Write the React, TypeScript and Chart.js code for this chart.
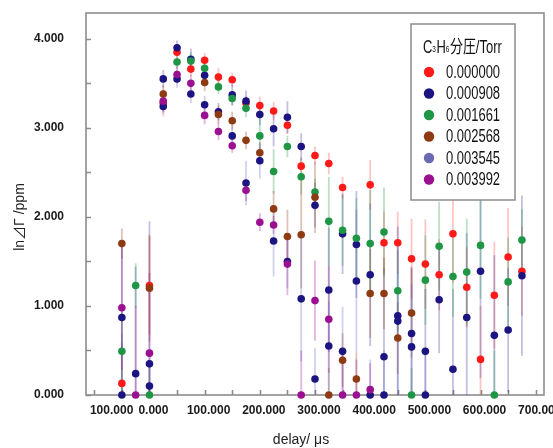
import React, { useEffect, useRef } from 'react';
import { Chart, registerables } from 'chart.js';

Chart.register(...registerables);

// delay (µs) of each measurement column
const delays = [-50, -25, 0, 25, 50, 75, 100, 125, 150, 175, 200, 225, 250, 275, 300, 325, 350, 375, 400, 425, 450, 475, 500, 525, 550, 575, 600, 625, 650, 675];

const seriesLabels = ['0.000000', '0.000908', '0.001661', '0.002568', '0.003545', '0.003992'];

// ln ΔΓ values per series (null = no point)
const p000000 = [0.13, null, 1.23, 3.28, 3.85, 3.66, 3.76, 3.57, 3.54, 3.28, 3.25, 3.19, 3.03, 2.57, 2.69, 2.60, 2.33, null, 2.36, 1.71, 1.71, 1.53, 1.47, 1.35, 1.81, 1.21, 0.40, 1.12, 1.55, 1.39];
const p000908 = [0.87, 0.24, 0.35, 3.55, 3.90, 3.77, 3.59, 3.18, 3.37, 3.30, 3.15, 2.99, 3.12, 2.79, 2.13, 1.18, 1.81, 1.69, 1.35, 0.43, 0.89, 0.69, 0.49, 1.07, 0.29, 0.87, 1.39, 0.67, 0.73, 1.34];
const p001661 = [0.49, 1.23, 0.0, null, 3.74, 3.75, 3.67, 3.46, 3.33, 3.22, 2.91, 2.51, 2.79, 2.45, 2.28, 1.95, 1.85, 1.76, 1.70, 1.83, 1.17, 0.0, 1.29, 1.67, 1.33, 1.38, 1.68, 0.0, 1.27, 1.74];
const p002568 = [1.70, null, 1.20, 3.38, null, null, 3.51, 3.15, 3.08, 2.86, 2.72, 2.09, 1.78, 1.80, 2.22, 0.0, 0.39, 0.18, 1.14, 1.14, 0.64, 0.92, null, null, null, null, null, null, null, null];
const p003545 = [0.0, null, 0.10, 3.24, 3.55, 3.38, 3.26, null, 2.91, 2.38, 2.63, 1.73, 1.50, 1.08, 0.18, 0.55, 0.49, 1.28, 0.0, 0.0, 0.83, 0.54, 0.0, null, null, null, null, null, null, null];
const p003992 = [0.98, 0.0, 0.47, 3.30, 3.60, 3.50, 3.14, 2.96, 2.80, 2.30, 1.94, 1.91, 1.47, 0.0, 1.06, 0.85, 0.0, 0.0, 0.06, null, null, null, null, null, null, null, null, null, null, null];

// error bar half widths
const e000000 = [0.45, null, 0.55, 0.15, 0.08, 0.08, 0.08, 0.10, 0.08, 0.08, 0.10, 0.10, 0.10, 0.10, 0.10, 0.12, 0.12, null, 0.28, 0.35, 0.35, 0.45, 0.50, 0.40, 0.55, 0.45, 0.60, 0.60, 0.55, 0.50];
const e000908 = [0.85, 1.20, 1.60, 0.10, 0.08, 0.12, 0.10, 0.10, 0.12, 0.12, 0.12, 0.20, 0.18, 0.15, 0.25, 0.70, 0.45, 0.60, 0.80, 1.00, 1.00, 0.75, 0.70, 0.60, 0.90, 0.95, 1.20, 0.90, 0.70, 0.90];
const e001661 = [0.50, 0.25, 0.30, null, 0.08, 0.10, 0.08, 0.08, 0.08, 0.10, 0.20, 0.25, 0.12, 0.20, 0.15, 0.50, 0.40, 0.45, 0.60, 0.50, 0.45, 0.30, 0.50, 0.50, 0.45, 0.60, 0.60, 0.50, 0.50, 0.35];
const e002568 = [0.17, null, 0.60, 0.10, null, null, 0.10, 0.10, 0.10, 0.10, 0.12, 0.20, 0.30, 0.60, 0.40, 0.30, 0.30, 0.30, 0.50, 0.40, 0.40, 0.50, null, null, null, null, null, null, null, null];
const e003545 = [0.70, null, 0.30, 0.08, 0.10, 0.10, 0.10, null, 0.12, 0.25, 0.20, 0.40, 0.30, 0.70, 0.35, 0.50, 0.50, 0.80, 0.40, 0.50, 0.90, 0.70, 0.50, null, null, null, null, null, null, null];
const e003992 = [0.70, 1.00, 0.90, 0.12, 0.10, 0.10, 0.10, 0.10, 0.08, 0.12, 0.10, 0.10, 0.35, 0.50, 0.45, 0.60, 0.50, 0.40, 0.30, null, null, null, null, null, null, null, null, null, null, null];

const seriesValues = [p000000, p000908, p001661, p002568, p003545, p003992];
const seriesErrors = [e000000, e000908, e001661, e002568, e003545, e003992];

const markerColors = ['#FF1A1A', '#1C1480', '#1E9646', '#8E3A12', '#1C1480', '#9A1090'];
const legendColors = ['#FF1A1A', '#1C1480', '#1E9646', '#8E3A12', '#6A6AB4', '#9A1090'];
const errorColors = ['rgba(255,60,60,0.3)', 'rgba(40,30,150,0.28)', 'rgba(30,150,70,0.3)', 'rgba(142,58,18,0.3)', 'rgba(90,90,190,0.28)', 'rgba(154,16,144,0.3)'];

const yTickValues = [0, 1, 2, 3, 4];
const xTickStep = 100;
const xMinorStep = 50;
const yMinorStep = 0.5;
const xTitle = 'delay/ μs';
const yTitle = 'ln⊿Γ /ppm';
const legendTitleParts = [
  { t: 'C', sub: false },
  { t: '3', sub: true },
  { t: 'H', sub: false },
  { t: '6', sub: true },
  { t: '分圧/Torr', sub: false },
];

const FONT = '"Liberation Sans", Arial, "Noto Sans CJK JP", sans-serif';
const CANVAS_W = 584;

const decorPlugin = {
  id: 'decor',
  beforeDatasetsDraw(chart: any) {
    const { ctx, chartArea: a, scales } = chart;
    const xs = scales.x;
    const ys = scales.y;
    ctx.save();
    // frame / axes
    ctx.strokeStyle = '#8c8c8c';
    ctx.lineWidth = 1.6;
    ctx.strokeRect(a.left, a.top, a.right - a.left, a.bottom - a.top);
    // inner tick marks
    ctx.beginPath();
    for (let v = 0; v <= ys.max + 1e-9; v += yMinorStep) {
      const py = Math.round(ys.getPixelForValue(v)) + 0.5;
      ctx.moveTo(a.left, py);
      ctx.lineTo(a.left + 5, py);
    }
    const xStart = Math.ceil(xs.min / xMinorStep) * xMinorStep;
    for (let v = xStart; v <= xs.max + 1e-9; v += xMinorStep) {
      const px = Math.round(xs.getPixelForValue(v)) + 0.5;
      ctx.moveTo(px, a.bottom);
      ctx.lineTo(px, a.bottom - 5);
    }
    ctx.stroke();

    // error bars
    ctx.beginPath();
    ctx.rect(a.left, a.top, a.right - a.left, a.bottom - a.top);
    ctx.clip();
    ctx.lineWidth = 1.8;
    seriesValues.forEach((vals, si) => {
      ctx.strokeStyle = errorColors[si];
      ctx.beginPath();
      vals.forEach((v, i) => {
        const e = seriesErrors[si][i];
        if (v == null || e == null) return;
        const px = xs.getPixelForValue(delays[i]);
        ctx.moveTo(px, ys.getPixelForValue(v + e));
        ctx.lineTo(px, ys.getPixelForValue(Math.max(0, v - e)));
      });
      ctx.stroke();
    });
    ctx.restore();

    // axis titles
    ctx.save();
    ctx.fillStyle = '#222';
    ctx.font = `14px ${FONT}`;
    ctx.textAlign = 'center';
    ctx.textBaseline = 'middle';
    ctx.fillText(xTitle, 301, 440);
    ctx.translate(20, 217);
    ctx.rotate(-Math.PI / 2);
    ctx.fillText(yTitle, 0, 0);
    ctx.restore();
  },
  afterDatasetsDraw(chart: any) {
    const { ctx } = chart;
    ctx.save();
    const bx = 411, by = 24, bw = 104, bh = 176;
    ctx.fillStyle = '#ffffff';
    ctx.fillRect(bx, by, bw, bh);
    ctx.strokeStyle = '#8c8c8c';
    ctx.lineWidth = 1.5;
    ctx.strokeRect(bx, by, bw, bh);
    const sx = 0.72;
    // title
    ctx.fillStyle = '#111';
    ctx.textBaseline = 'alphabetic';
    ctx.textAlign = 'left';
    let tx = 423;
    legendTitleParts.forEach((p) => {
      ctx.font = p.sub ? `9px ${FONT}` : `18px ${FONT}`;
      const w = ctx.measureText(p.t).width * sx;
      ctx.save();
      ctx.translate(tx, p.sub ? 52 : 53);
      ctx.scale(sx, 1);
      ctx.fillText(p.t, 0, 0);
      ctx.restore();
      tx += w + (p.sub ? 0.5 : 0);
    });
    // entries
    seriesLabels.forEach((lab, i) => {
      const cy = 72 + i * 21.5;
      ctx.fillStyle = legendColors[i];
      ctx.beginPath();
      ctx.arc(429, cy, 5.2, 0, Math.PI * 2);
      ctx.fill();
      ctx.fillStyle = '#111';
      ctx.font = `18px ${FONT}`;
      ctx.textBaseline = 'middle';
      ctx.save();
      ctx.translate(446, cy + 1);
      ctx.scale(sx, 1);
      ctx.fillText(lab, 0, 0);
      ctx.restore();
    });
    ctx.restore();
  },
};

export default function App() {
  const ref = useRef<HTMLCanvasElement | null>(null);
  useEffect(() => {
    if (!ref.current) return;
    const datasets = seriesValues.map((vals, si) => ({
      label: seriesLabels[si],
      data: vals
        .map((v, i) => (v == null ? null : { x: delays[i], y: v }))
        .filter((d) => d !== null) as { x: number; y: number }[],
      backgroundColor: markerColors[si],
      borderColor: markerColors[si],
      pointRadius: 3.8,
      pointBorderWidth: 0,
      pointHoverRadius: 3.8,
      showLine: false,
      clip: false as any,
      order: 6 - si,
    }));
    const chart = new Chart(ref.current, {
      type: 'scatter',
      data: { datasets },
      options: {
        animation: false,
        responsive: false,
        events: [],
        layout: { padding: { left: 0, right: CANVAS_W - 544, top: 13, bottom: 0 } },
        plugins: { legend: { display: false }, tooltip: { enabled: false } },
        scales: {
          x: {
            type: 'linear',
            min: -115,
            max: 715,
            grid: { display: false, drawTicks: false, tickLength: 0 },
            border: { display: false },
            ticks: {
              stepSize: xTickStep,
              includeBounds: false,
              autoSkip: false,
              maxRotation: 0,
              padding: 8,
              labelOffset: 4,
              color: '#1a1a1a',
              font: { family: FONT, size: 12, weight: 'bold' },
              callback: (v: any) =>
                Number(v) < 0 ? '\u2007\u2007\u2007\u2007' + Math.abs(Number(v)).toFixed(3) : Number(v).toFixed(3),
            },
            afterFit: (s: any) => {
              s.height = 53;
              s.paddingLeft = 0;
              s.paddingRight = 0;
              s.paddingTop = 0;
              s.paddingBottom = 0;
            },
          },
          y: {
            type: 'linear',
            min: 0,
            max: 4.29,
            grid: { display: false, drawTicks: false, tickLength: 0 },
            border: { display: false },
            afterBuildTicks: (s: any) => {
              s.ticks = yTickValues.map((v) => ({ value: v }));
            },
            ticks: {
              padding: 22,
              color: '#1a1a1a',
              font: { family: FONT, size: 12, weight: 'bold' },
              callback: (v: any) => Number(v).toFixed(3),
            },
            afterFit: (s: any) => {
              s.width = 86;
              s.paddingLeft = 0;
              s.paddingRight = 0;
              s.paddingTop = 0;
              s.paddingBottom = 0;
            },
          },
        },
      },
      plugins: [decorPlugin],
    });
    return () => chart.destroy();
  }, []);
  return (
    <div style={{ position: 'fixed', left: 0, top: 0, width: 553, height: 448, overflow: 'hidden', background: '#fff' }}>
      <canvas ref={ref} width={CANVAS_W} height={448} style={{ display: 'block' }} />
    </div>
  );
}
